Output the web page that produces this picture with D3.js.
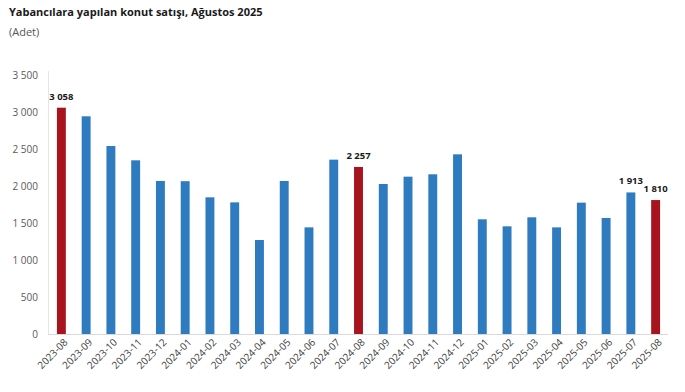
<!DOCTYPE html>
<html><head><meta charset="utf-8">
<script src="https://cdn.jsdelivr.net/npm/d3@7"></script>
<style>body{margin:0;background:#fff}svg{display:block}</style>
</head><body>
<script>
const categories = ["2023-08","2023-09","2023-10","2023-11","2023-12","2024-01","2024-02","2024-03","2024-04","2024-05","2024-06","2024-07","2024-08","2024-09","2024-10","2024-11","2024-12","2025-01","2025-02","2025-03","2025-04","2025-05","2025-06","2025-07","2025-08"];
const values = [3058,2942,2540,2347,2068,2065,1847,1779,1270,2068,1441,2356,2257,2027,2126,2158,2428,1550,1455,1577,1441,1775,1568,1913,1810];
const highlighted = ["2023-08","2024-08","2025-08"];
const labelled = ["2023-08","2024-08","2025-07","2025-08"];
const yTicks = [0,500,1000,1500,2000,2500,3000,3500];
const title = "Yabancılara yapılan konut satışı, Ağustos 2025";
const subtitle = "(Adet)";

const W = 685, H = 392;
const fmt = v => d3.format(",")(v).replace(/,/g, " ");
const svg = d3.select("body").append("svg").attr("width", W).attr("height", H);
const font = "'Open Sans', 'Noto Sans', sans-serif";

const x = d3.scaleBand().domain(categories).range([49, 668]).paddingInner(0.64).paddingOuter(0.32);
const y = d3.scaleLinear().domain([0, 3500]).range([334, 75]);

svg.append("text").attr("x", 9).attr("y", 16).text(title)
  .attr("font-family", font).attr("font-weight", "bold").attr("font-size", 11).attr("fill", "#1a1a1a");
svg.append("text").attr("x", 9).attr("y", 36).text(subtitle)
  .attr("font-family", font).attr("font-size", 11).attr("fill", "#555");

// axis lines
svg.append("line").attr("x1", 48.5).attr("x2", 48.5).attr("y1", 71).attr("y2", 334).attr("stroke", "#e6e6e6");
svg.append("line").attr("x1", 48).attr("x2", 668).attr("y1", 334.5).attr("y2", 334.5).attr("stroke", "#d9d9d9");

// y axis labels
const ya = svg.append("g").attr("transform", "translate(38,0)")
  .call(d3.axisLeft(y).tickValues(yTicks).tickFormat(fmt).tickSize(0).tickPadding(0));
ya.select(".domain").remove();
ya.selectAll("text").attr("font-family", font).attr("font-size", 10).attr("fill", "#595959");

// bars
svg.append("g").selectAll("rect").data(categories).join("rect")
  .attr("x", d => x(d)).attr("width", x.bandwidth())
  .attr("y", (d, i) => y(values[i])).attr("height", (d, i) => y(0) - y(values[i]))
  .attr("fill", d => highlighted.includes(d) ? "#A8141E" : "#2E7BBF");

// value labels
svg.append("g").selectAll("text").data(categories.filter(c => labelled.includes(c))).join("text")
  .attr("x", d => x(d) + x.bandwidth() / 2)
  .attr("y", d => y(values[categories.indexOf(d)]) - 8)
  .attr("text-anchor", "middle")
  .attr("font-family", font).attr("font-weight", "bold").attr("font-size", 9.5).attr("fill", "#1a1a1a")
  .text(d => fmt(values[categories.indexOf(d)]));

// x labels
const xa = svg.append("g").attr("transform", "translate(0,334)")
  .call(d3.axisBottom(x).tickSize(0).tickPadding(0));
xa.select(".domain").remove();
xa.selectAll("text")
  .attr("font-family", font).attr("font-size", 10).attr("fill", "#404040")
  .attr("text-anchor", "end").attr("dy", null)
  .attr("transform", "translate(7,9) rotate(-45)");
</script>
</body></html>
